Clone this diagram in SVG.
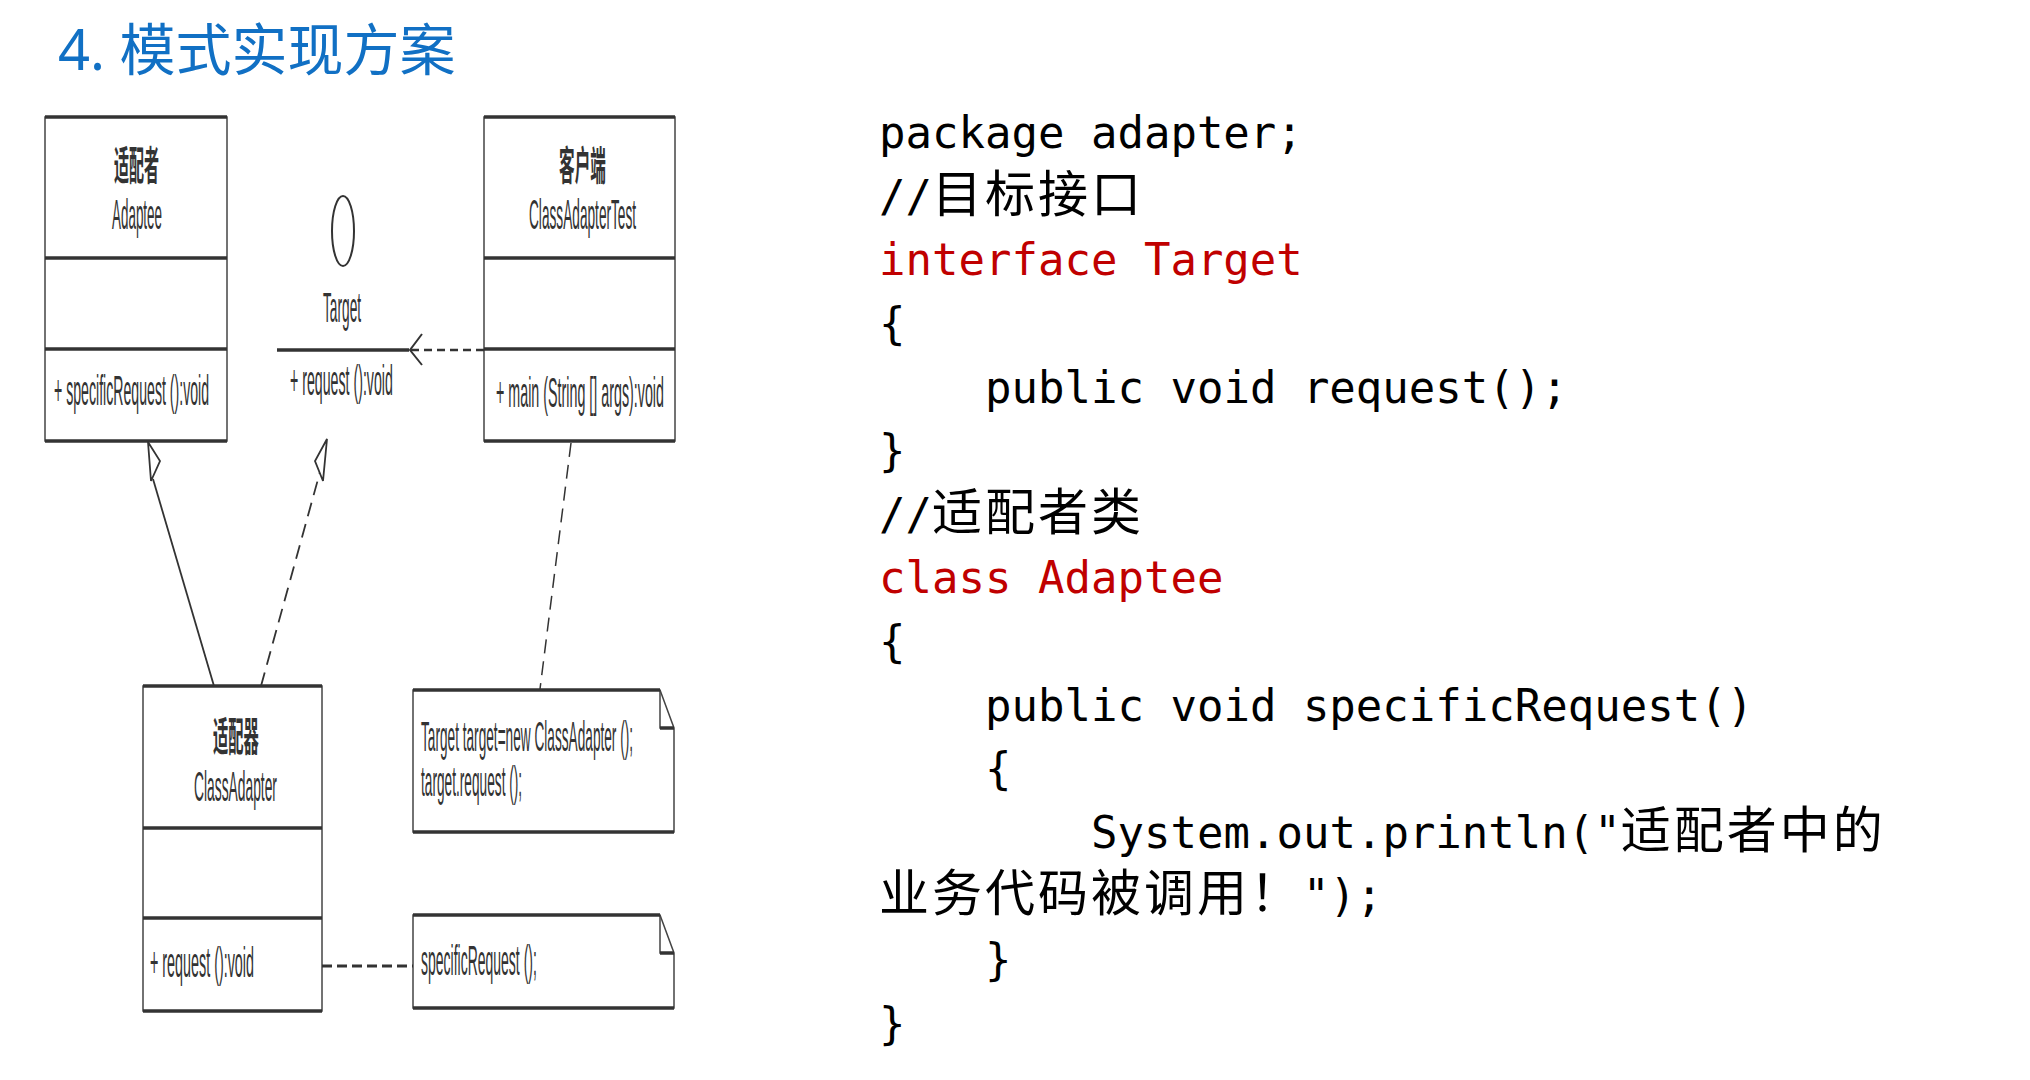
<svg xmlns="http://www.w3.org/2000/svg" width="2030" height="1080" viewBox="0 0 2030 1080">
<style>
.title{font-family:"Noto Sans","Noto Sans CJK SC",sans-serif;font-size:56px;fill:#1170C4}
.u{font-family:"Liberation Sans","Noto Sans CJK SC",sans-serif;font-size:42px;fill:#333}
.uc{font-family:"Noto Sans CJK SC",sans-serif;font-size:40px;fill:#333;font-weight:bold}
.edge{fill:none;stroke:#444;stroke-width:1.5}
.thick{stroke:#333;stroke-width:3.5}
.code{font-family:"DejaVu Sans Mono","Noto Sans CJK SC",monospace;font-size:44px;fill:#000}
.red{fill:#C00000}
.cjk{font-family:"Noto Sans CJK SC",sans-serif;font-size:50px;letter-spacing:3px}
</style>
<rect width="2030" height="1080" fill="#fff"/>
<text class="title" x="58" y="70">4. 模式实现方案</text>

<g id="adaptee">
<rect class="edge" x="45" y="117" width="182" height="324" fill="#fff"/>
<line class="thick" x1="45" y1="117" x2="227" y2="117"/>
<line class="thick" x1="45" y1="258" x2="227" y2="258"/>
<line class="thick" x1="45" y1="349" x2="227" y2="349"/>
<line class="thick" x1="45" y1="441" x2="227" y2="441"/>
<text class="uc" transform="translate(114,180) scale(0.35,1)" textLength="129" lengthAdjust="spacingAndGlyphs">适配者</text>
<text class="u" transform="translate(112,229) scale(0.35,1)" textLength="143" lengthAdjust="spacingAndGlyphs">Adaptee</text>
<text class="u" transform="translate(54,405) scale(0.35,1)" textLength="443" lengthAdjust="spacingAndGlyphs">+ specificRequest ():void</text>
</g>

<g id="target">
<ellipse cx="343" cy="231" rx="11" ry="35" fill="none" stroke="#333" stroke-width="2"/>
<text class="u" transform="translate(323,322) scale(0.35,1)" textLength="109" lengthAdjust="spacingAndGlyphs">Target</text>
<line class="thick" x1="277" y1="350" x2="409" y2="350"/>
<text class="u" transform="translate(290,395) scale(0.35,1)" textLength="294" lengthAdjust="spacingAndGlyphs">+ request ():void</text>
</g>

<g id="client">
<rect class="edge" x="484" y="117" width="191" height="324" fill="#fff"/>
<line class="thick" x1="484" y1="117" x2="675" y2="117"/>
<line class="thick" x1="484" y1="258" x2="675" y2="258"/>
<line class="thick" x1="484" y1="349" x2="675" y2="349"/>
<line class="thick" x1="484" y1="441" x2="675" y2="441"/>
<text class="uc" transform="translate(559,180) scale(0.35,1)" textLength="134" lengthAdjust="spacingAndGlyphs">客户端</text>
<text class="u" transform="translate(529,229) scale(0.35,1)" textLength="306" lengthAdjust="spacingAndGlyphs">ClassAdapterTest</text>
<text class="u" transform="translate(496,407) scale(0.35,1)" textLength="480" lengthAdjust="spacingAndGlyphs">+ main (String [] args):void</text>
</g>

<g id="classadapter">
<rect class="edge" x="143" y="686" width="179" height="325" fill="#fff"/>
<line class="thick" x1="143" y1="686" x2="322" y2="686"/>
<line class="thick" x1="143" y1="828" x2="322" y2="828"/>
<line class="thick" x1="143" y1="918" x2="322" y2="918"/>
<line class="thick" x1="143" y1="1011" x2="322" y2="1011"/>
<text class="uc" transform="translate(213,751) scale(0.35,1)" textLength="131" lengthAdjust="spacingAndGlyphs">适配器</text>
<text class="u" transform="translate(194,801) scale(0.35,1)" textLength="237" lengthAdjust="spacingAndGlyphs">ClassAdapter</text>
<text class="u" transform="translate(150,977) scale(0.35,1)" textLength="297" lengthAdjust="spacingAndGlyphs">+ request ():void</text>
</g>

<g id="note1">
<path class="edge" d="M413,690 H660 L674,728 V832 H413 Z" fill="#fff"/>
<path class="edge" d="M660,690 V728 H674"/>
<line class="thick" x1="413" y1="690" x2="660" y2="690"/>
<line class="thick" x1="413" y1="832" x2="674" y2="832"/>
<line class="thick" x1="660" y1="728" x2="674" y2="728"/>
<text class="u" transform="translate(421,751) scale(0.35,1)" textLength="606" lengthAdjust="spacingAndGlyphs">Target target=new ClassAdapter ();</text>
<text class="u" transform="translate(421,796) scale(0.35,1)" textLength="289" lengthAdjust="spacingAndGlyphs">target.request ();</text>
</g>

<g id="note2">
<path class="edge" d="M413,915 H660 L674,953 V1008 H413 Z" fill="#fff"/>
<path class="edge" d="M660,915 V953 H674"/>
<line class="thick" x1="413" y1="915" x2="660" y2="915"/>
<line class="thick" x1="413" y1="1008" x2="674" y2="1008"/>
<line class="thick" x1="660" y1="953" x2="674" y2="953"/>
<text class="u" transform="translate(421,975) scale(0.35,1)" textLength="331" lengthAdjust="spacingAndGlyphs">specificRequest ();</text>
</g>

<g id="connectors" fill="none" stroke="#333">
<line x1="484" y1="350" x2="411" y2="350" stroke-width="2.5" stroke-dasharray="8 5"/>
<path d="M422,334 L410,350 L422,365" stroke-width="2"/>
<line x1="214" y1="686" x2="153" y2="479" stroke-width="1.8"/>
<path d="M148,442 L160,461 L151,481 Z" fill="#fff" stroke-width="1.8"/>
<line x1="261" y1="686" x2="320" y2="472" stroke-width="1.8" stroke-dasharray="14 8"/>
<path d="M327,439 L315,461 L323,481 Z" fill="#fff" stroke-width="1.8"/>
<line x1="571" y1="443" x2="540" y2="689" stroke-width="1.5" stroke-dasharray="14 8"/>
<line x1="322" y1="966" x2="413" y2="966" stroke-width="3" stroke-dasharray="10 5"/>
</g>

<g id="code" class="code">
<text x="879" y="148">package adapter;</text>
<text x="879" y="212">//<tspan class="cjk">目标接口</tspan></text>
<text x="879" y="275" class="red">interface Target</text>
<text x="879" y="339">{</text>
<text x="985" y="403">public void request();</text>
<text x="879" y="466">}</text>
<text x="879" y="530">//<tspan class="cjk">适配者类</tspan></text>
<text x="879" y="593" class="red">class Adaptee</text>
<text x="879" y="657">{</text>
<text x="985" y="721">public void specificRequest()</text>
<text x="985" y="784">{</text>
<text x="1091" y="848">System.out.println("<tspan class="cjk">适配者中的</tspan></text>
<text x="879" y="911"><tspan class="cjk">业务代码被调用！</tspan>");</text>
<text x="985" y="975">}</text>
<text x="879" y="1039">}</text>
</g>
</svg>
